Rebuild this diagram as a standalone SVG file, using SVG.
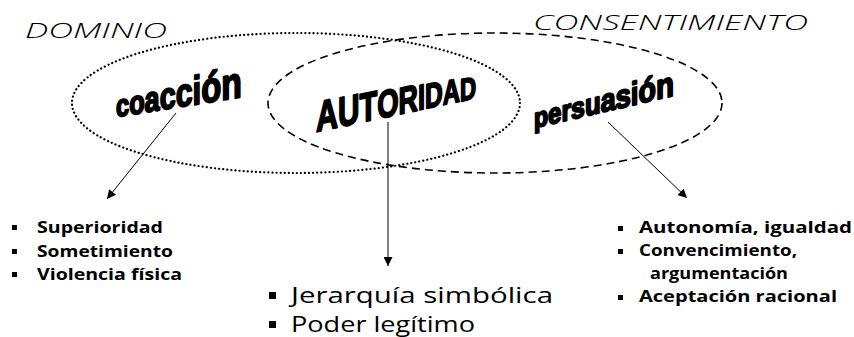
<svg xmlns="http://www.w3.org/2000/svg" width="854" height="337" viewBox="0 0 854 337">
<defs>
<style>
.title{font-family:"Open Sans","DejaVu Sans",sans-serif;font-style:italic;font-weight:300;fill:#000}
.word{font-family:"Liberation Sans",Arial,sans-serif;font-weight:bold;fill:#000;stroke:#000;stroke-width:1.8;stroke-linejoin:round}
.item{font-family:"Open Sans","DejaVu Sans",sans-serif;font-weight:700;font-size:16.5px;fill:#000}
.item2{font-family:"Open Sans","DejaVu Sans",sans-serif;font-weight:500;font-size:21.5px;fill:#000}
.conn{stroke:#000;stroke-width:1;fill:none}
</style>
<marker id="ah" viewBox="0 0 10 10" refX="10" refY="5" markerWidth="9" markerHeight="9" markerUnits="userSpaceOnUse" orient="auto">
<path d="M0,0 L10,5 L0,10 z" fill="#000"/>
</marker>
</defs>
<rect width="854" height="337" fill="#fff"/>

<g id="dominio">
<ellipse cx="296" cy="103" rx="224" ry="70" fill="none" stroke="#000" stroke-width="2.2" stroke-dasharray="0.1 4" stroke-linecap="round"/>
<text class="title" x="25" y="38" font-size="20" textLength="142" lengthAdjust="spacingAndGlyphs">DOMINIO</text>
</g>

<g id="consentimiento">
<ellipse cx="495" cy="103" rx="227" ry="70" fill="none" stroke="#000" stroke-width="1.6" stroke-dasharray="8 5"/>
<text class="title" x="533" y="30" font-size="21" textLength="275" lengthAdjust="spacingAndGlyphs">CONSENTIMIENTO</text>
</g>

<g id="coaccion">
<text class="word" transform="translate(116,117) skewY(-9) scale(1,1.1)" textLength="126" lengthAdjust="spacingAndGlyphs"><tspan font-size="28">c</tspan><tspan font-size="30">o</tspan><tspan font-size="32">a</tspan><tspan font-size="34">c</tspan><tspan font-size="36">c</tspan><tspan font-size="37">i</tspan><tspan font-size="39">ó</tspan><tspan font-size="40">n</tspan></text>
</g>

<g id="autoridad">
<text class="word" transform="translate(316,132) skewY(-12) scale(1,1.05)" textLength="160" lengthAdjust="spacingAndGlyphs"><tspan font-size="41">A</tspan><tspan font-size="40">U</tspan><tspan font-size="39">T</tspan><tspan font-size="37">O</tspan><tspan font-size="36">R</tspan><tspan font-size="34">I</tspan><tspan font-size="33">D</tspan><tspan font-size="32">A</tspan><tspan font-size="30">D</tspan></text>
</g>

<g id="persuasion">
<text class="word" transform="translate(534,128) skewY(-13) scale(1,1.1)" textLength="140" lengthAdjust="spacingAndGlyphs"><tspan font-size="25">p</tspan><tspan font-size="26">e</tspan><tspan font-size="27">r</tspan><tspan font-size="27">s</tspan><tspan font-size="28">u</tspan><tspan font-size="29">a</tspan><tspan font-size="30">s</tspan><tspan font-size="30">i</tspan><tspan font-size="31">ó</tspan><tspan font-size="32">n</tspan></text>
</g>

<g id="connectors">
<line class="conn" x1="176" y1="113" x2="107" y2="199" marker-end="url(#ah)"/>
<line class="conn" x1="388" y1="122" x2="388" y2="266" marker-end="url(#ah)"/>
<line class="conn" x1="608" y1="122" x2="687" y2="198" marker-end="url(#ah)"/>
</g>

<g id="list-coaccion">
<rect x="12" y="225" width="5" height="5"/>
<rect x="12" y="249" width="5" height="5"/>
<rect x="12" y="272" width="5" height="5"/>
<text class="item" x="37" y="233" textLength="126" lengthAdjust="spacingAndGlyphs">Superioridad</text>
<text class="item" x="37" y="257" textLength="136" lengthAdjust="spacingAndGlyphs">Sometimiento</text>
<text class="item" x="37" y="280" textLength="145" lengthAdjust="spacingAndGlyphs">Violencia física</text>
</g>

<g id="list-autoridad">
<rect x="269" y="292" width="7" height="7"/>
<rect x="269" y="321" width="7" height="7"/>
<text class="item2" x="291" y="303" textLength="262" lengthAdjust="spacingAndGlyphs">Jerarquía simbólica</text>
<text class="item2" x="291" y="332" textLength="184" lengthAdjust="spacingAndGlyphs">Poder legítimo</text>
</g>

<g id="list-persuasion">
<rect x="618" y="226" width="5" height="5"/>
<rect x="618" y="249" width="5" height="5"/>
<rect x="618" y="295" width="5" height="5"/>
<text class="item" x="639" y="233" textLength="213" lengthAdjust="spacingAndGlyphs">Autonomía, igualdad</text>
<text class="item" x="639" y="256" textLength="158" lengthAdjust="spacingAndGlyphs">Convencimiento,</text>
<text class="item" x="650" y="279" textLength="138" lengthAdjust="spacingAndGlyphs">argumentación</text>
<text class="item" x="639" y="302" textLength="198" lengthAdjust="spacingAndGlyphs">Aceptación racional</text>
</g>
</svg>
